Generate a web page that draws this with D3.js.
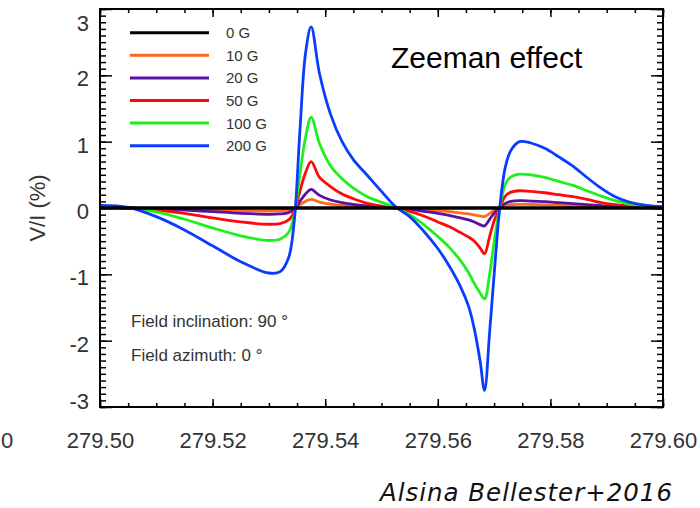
<!DOCTYPE html>
<html>
<head>
<meta charset="utf-8">
<script src="https://cdn.jsdelivr.net/npm/d3@7"></script>
<style>
  body { margin: 0; background: #fff; }
  svg { display: block; font-family: "Liberation Sans", Arial, Helvetica, sans-serif; }
  .axis text { font-size: 22px; fill: #333; }
  .axis line { stroke: #000; stroke-width: 1.5px; }
  .legend text { font-size: 15px; fill: #333; }
  .note { font-size: 17px; fill: #333; }
</style>
</head>
<body>
<div id="chart"></div>
<script>
// Wavelength grid (nm) shared by all profiles
var wavelengths = [
  279.500, 279.505, 279.510, 279.515, 279.520, 279.525, 279.530, 279.532, 279.5335, 279.5345,
  279.5355, 279.5365, 279.5375, 279.539, 279.541, 279.543, 279.545, 279.5475, 279.550, 279.5525,
  279.555, 279.5575, 279.560, 279.562, 279.564, 279.5655, 279.5665, 279.5675, 279.5683, 279.5692,
  279.5701, 279.5710, 279.5720, 279.5730, 279.5745, 279.5765, 279.579, 279.5815, 279.584, 279.5865,
  279.589, 279.5915, 279.594, 279.597, 279.600
];

// V/I (%) for each field strength
var v0G = [
  0, 0, 0, 0, 0, 0, 0, 0, 0, 0,
  0, 0, 0, 0, 0, 0, 0, 0, 0, 0,
  0, 0, 0, 0, 0, 0, 0, 0, 0, 0,
  0, 0, 0, 0, 0, 0, 0, 0, 0, 0,
  0, 0, 0, 0, 0
];
var v10G = [
  0.0, 0.0, -0.006, -0.015, -0.027, -0.038, -0.045, -0.043, -0.033, -0.01,
  0.05, 0.10, 0.13, 0.09, 0.06, 0.04, 0.027, 0.015, 0.007, 0.0,
  -0.01, -0.025, -0.04, -0.055, -0.075, -0.09, -0.105, -0.12, -0.13, -0.085,
  -0.035, 0.0, 0.035, 0.05, 0.055, 0.053, 0.048, 0.04, 0.033, 0.025,
  0.017, 0.01, 0.005, 0.002, 0.0
];
var v20G = [
  0.005, 0.0, -0.012, -0.03, -0.055, -0.08, -0.095, -0.09, -0.07, -0.02,
  0.10, 0.21, 0.28, 0.19, 0.12, 0.08, 0.055, 0.03, 0.015, 0.0,
  -0.02, -0.05, -0.08, -0.11, -0.15, -0.18, -0.21, -0.25, -0.27, -0.17,
  -0.07, 0.0, 0.07, 0.10, 0.11, 0.105, 0.095, 0.08, 0.065, 0.05,
  0.035, 0.02, 0.01, 0.005, 0.0
];
var v50G = [
  0.01, 0.0, -0.03, -0.08, -0.15, -0.21, -0.245, -0.235, -0.18, -0.05,
  0.25, 0.53, 0.70, 0.46, 0.32, 0.21, 0.14, 0.07, 0.03, 0.0,
  -0.05, -0.12, -0.21, -0.28, -0.37, -0.44, -0.50, -0.60, -0.69, -0.43,
  -0.17, 0.0, 0.18, 0.24, 0.26, 0.25, 0.23, 0.20, 0.17, 0.13,
  0.08, 0.05, 0.03, 0.01, 0.005
];
var v100G = [
  0.02, 0.005, -0.06, -0.17, -0.30, -0.42, -0.49, -0.47, -0.37, -0.10,
  0.50, 1.06, 1.37, 0.97, 0.63, 0.44, 0.30, 0.17, 0.085, 0.01,
  -0.10, -0.25, -0.43, -0.59, -0.79, -0.98, -1.14, -1.28, -1.37, -1.00,
  -0.45, 0.0, 0.36, 0.47, 0.51, 0.50, 0.46, 0.40, 0.34, 0.26,
  0.18, 0.11, 0.06, 0.025, 0.01
];
var v200G = [
  0.04, 0.01, -0.13, -0.33, -0.57, -0.81, -0.98, -0.96, -0.75, -0.20,
  1.15, 2.33, 2.73, 2.02, 1.40, 1.00, 0.73, 0.49, 0.25, 0.02,
  -0.13, -0.35, -0.61, -0.87, -1.18, -1.49, -1.83, -2.30, -2.75, -1.88,
  -0.90, 0.0, 0.62, 0.87, 1.00, 0.98, 0.90, 0.77, 0.63, 0.46,
  0.30, 0.17, 0.09, 0.04, 0.02
];

var fieldLabels = ["0 G", "10 G", "20 G", "50 G", "100 G", "200 G"];
var xTicks = [279.50, 279.52, 279.54, 279.56, 279.58, 279.60];
var yTicks = [-3, -2, -1, 0, 1, 2, 3];

var colors = ["#000000", "#ff6a1f", "#5a10a3", "#ff0a0a", "#1ef01e", "#0a3cff"];

var series = [v0G, v10G, v20G, v50G, v100G, v200G].map(function(values, i) {
  return { label: fieldLabels[i], values: values, color: colors[i] };
});

// Setup
var width = 700;
var height = 508;
var margins = { top: 9, right: 37, bottom: 101, left: 100 };
var chartWidth = width - margins.left - margins.right;
var chartHeight = height - margins.top - margins.bottom;

var svg = d3.select("#chart")
  .append("svg")
  .attr("width", width)
  .attr("height", height);

var chart = svg.append("g")
  .attr("transform", "translate(" + margins.left + "," + margins.top + ")");

var xScale = d3.scaleLinear().domain([279.50, 279.60]).range([0, chartWidth]);
var yScale = d3.scaleLinear().domain([-3, 3]).range([chartHeight, 0]);

var xMinor = d3.range(0, 21).map(i => 279.50 + i * 0.005);
var yMinor = d3.range(-30, 31).map(i => i / 10);

// IDL-style labels use a plain hyphen for negatives
var intFormat = d => String(d).replace("\u2212", "-");

chart.append("clipPath")
  .attr("id", "plot-clip")
  .append("rect")
  .attr("width", chartWidth)
  .attr("height", chartHeight);

// Profiles: coloured ones first, zero-field line on top
var line = d3.line()
  .x((d, i) => xScale(wavelengths[i]))
  .y(d => yScale(d))
  .curve(d3.curveCatmullRom.alpha(0.5));

var drawOrder = series.slice(1).concat([series[0]]);

chart.append("g")
  .attr("class", "profiles")
  .attr("clip-path", "url(#plot-clip)")
  .selectAll("path")
  .data(drawOrder)
  .enter()
  .append("path")
  .attr("d", d => line(d.values))
  .attr("fill", "none")
  .attr("stroke", d => d.color)
  .attr("stroke-width", d => d.label == "0 G" ? 3.5 : 2.8)
  .attr("stroke-linejoin", "round");

// Tick marks on all four sides, pointing inwards
function ticks(axis, values, size, transform) {
  var g = chart.append("g")
    .attr("class", "axis")
    .attr("transform", transform || null)
    .call(axis.tickValues(values).tickSize(-size).tickFormat(""));
  g.select(".domain").remove();
}

ticks(d3.axisBottom(xScale), xMinor, 4, "translate(0," + chartHeight + ")");
ticks(d3.axisBottom(xScale), xTicks, 8, "translate(0," + chartHeight + ")");
ticks(d3.axisTop(xScale), xMinor, 4);
ticks(d3.axisTop(xScale), xTicks, 8);
ticks(d3.axisLeft(yScale), yMinor, 6);
ticks(d3.axisLeft(yScale), yTicks, 12);
ticks(d3.axisRight(yScale), yMinor, 6, "translate(" + chartWidth + ",0)");
ticks(d3.axisRight(yScale), yTicks, 12, "translate(" + chartWidth + ",0)");

// Tick labels
var xLabels = chart.append("g")
  .attr("class", "axis")
  .attr("transform", "translate(0," + chartHeight + ")")
  .call(d3.axisBottom(xScale).tickValues(xTicks).tickSize(0).tickPadding(25).tickFormat(d3.format(".2f")));
xLabels.select(".domain").remove();

var yLabels = chart.append("g")
  .attr("class", "axis")
  .call(d3.axisLeft(yScale).tickValues(yTicks).tickSize(0).tickPadding(11).tickFormat(intFormat));
yLabels.select(".domain").remove();
yLabels.selectAll("text")
  .attr("y", d => d == 3 ? 14 : (d == -3 ? -5.5 : 3.4));

// Clipped leftover label at the far left edge
svg.append("text")
  .attr("x", 1)
  .attr("y", 448)
  .attr("font-size", 22)
  .attr("fill", "#333")
  .text("0");

// Frame
chart.append("rect")
  .attr("width", chartWidth)
  .attr("height", chartHeight)
  .attr("fill", "none")
  .attr("stroke", "#000")
  .attr("stroke-width", 2);

// Y axis title
svg.append("text")
  .attr("transform", "translate(37.5," + (margins.top + chartHeight / 2) + ") rotate(-90)")
  .attr("text-anchor", "middle")
  .attr("dy", "0.35em")
  .attr("font-size", 22)
  .attr("fill", "#333")
  .text("V/I (%)");

// Legend
var legend = chart.append("g")
  .attr("class", "legend")
  .selectAll("g")
  .data(series)
  .enter()
  .append("g")
  .attr("transform", (d, i) => "translate(30," + (23.7 + i * 22.6) + ")");

legend.append("line")
  .attr("x1", 0)
  .attr("x2", 79)
  .attr("stroke", d => d.color)
  .attr("stroke-width", 3);

legend.append("text")
  .attr("x", 96)
  .attr("y", 5.5)
  .text(d => d.label);

// Title and notes
chart.append("text")
  .attr("x", 291)
  .attr("y", 59.3)
  .attr("font-size", 30)
  .attr("fill", "#000")
  .text("Zeeman effect");

chart.append("text")
  .attr("class", "note")
  .attr("x", 31)
  .attr("y", 317.5)
  .text("Field inclination: 90 \u00b0");

chart.append("text")
  .attr("class", "note")
  .attr("x", 31)
  .attr("y", 351.5)
  .text("Field azimuth: 0 \u00b0");

// Citation
svg.append("text")
  .attr("x", 380)
  .attr("y", 501)
  .attr("font-family", "'DejaVu Sans', sans-serif")
  .attr("font-style", "italic")
  .attr("font-size", 24.5)
  .attr("fill", "#111")
  .attr("textLength", 292)
  .attr("lengthAdjust", "spacing")
  .text("Alsina Bellester+2016");
</script>
</body>
</html>
